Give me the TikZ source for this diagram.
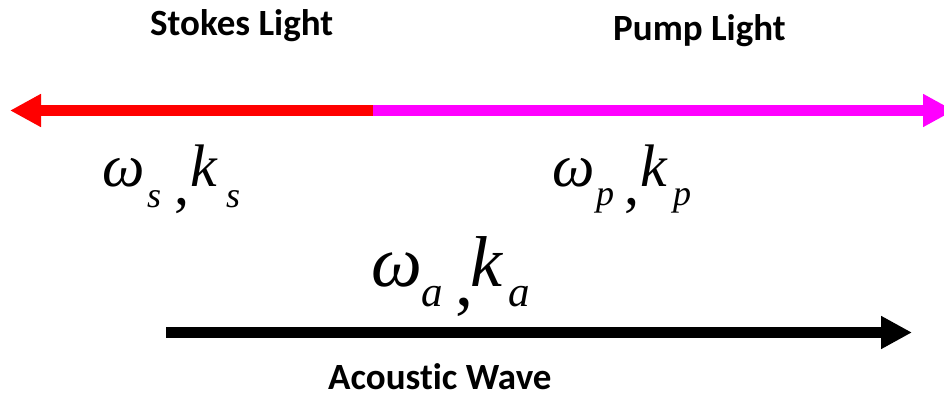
\documentclass[tikz,border=0pt]{standalone}
\usepackage{fontspec}
\setmainfont{Liberation Serif}
\newfontfamily\lblfont[Ligatures=NoCommon]{Carlito}
\usetikzlibrary{arrows.meta}
\definecolor{stokesred}{RGB}{255,0,0}
\definecolor{pumpmag}{RGB}{255,0,255}
\tikzset{
  x=1pt,y=1pt,
  title/.style={inner sep=0pt,anchor=base west,text depth=0pt,font=\lblfont\bfseries\fontsize{37}{37}\selectfont},
  big/.style={inner sep=0pt,anchor=base west,font=\itshape\fontsize{60}{60}\selectfont},
  bigA/.style={inner sep=0pt,anchor=base west,font=\itshape\fontsize{72}{72}\selectfont},
  small/.style={inner sep=0pt,anchor=base west,font=\itshape\fontsize{36}{36}\selectfont},
  smallA/.style={inner sep=0pt,anchor=base west,font=\itshape\fontsize{43}{43}\selectfont},
  wave/.style={line width=11pt,-{Triangle[length=31pt,width=31pt]}},
}
\newcommand{\lowcomma}[1]{\raisebox{#1}{\upshape,}}
\begin{document}
\begin{tikzpicture}
\useasboundingbox (0,0) rectangle (944,398);
% arrows
\coordinate (mid) at (373,287.5);
\coordinate (left) at (10,287.5);
\coordinate (right) at (954,287.5);
\coordinate (astart) at (166,65.5);
\coordinate (aend) at (912,65.5);
\draw[wave,stokesred] (mid) -- (left);
\draw[wave,pumpmag] (mid) -- (right);
\draw[wave,black] (astart) -- (aend);
% titles
\node[title] (stokes) at (150,362) {Stokes Light};
\node[title] (pump) at (613,357) {Pump Light};
\node[title] (acoustic) at (328,8) {Acoustic Wave};
% omega_s, k_s
\node[big] (ws) at (102,211) {ω};
\node[small] (ss) at (147,190) {s};
\node[big] (ks) at (174,211) {\lowcomma{-18pt}\hspace{1pt}k};
\node[small] (kss) at (226,190) {s};
% omega_p, k_p
\node[big] (wp) at (552,211) {ω};
\node[small] (sp) at (596,192) {p};
\node[big] (kp) at (624,211) {\lowcomma{-18pt}\hspace{1pt}k};
\node[small] (ksp) at (673,192) {p};
% omega_a, k_a
\node[bigA] (wa) at (371,111) {ω};
\node[smallA] (sa) at (421,91) {a};
\node[bigA] (ka) at (455,111) {\lowcomma{-19pt}\hspace{-3pt}k};
\node[smallA] (ksa) at (508,91) {a};
\end{tikzpicture}
\end{document}
